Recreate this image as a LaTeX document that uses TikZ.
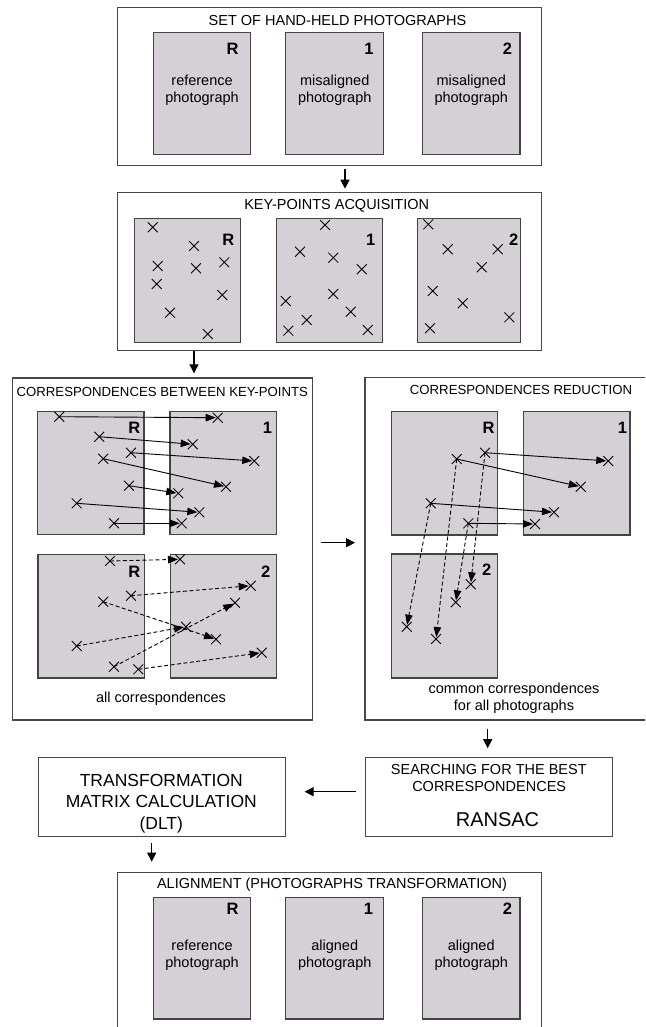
\documentclass[tikz,border=0pt]{standalone}
\usepackage{fontspec}
\setmainfont{Liberation Sans}
\usetikzlibrary{arrows.meta,shapes.misc}
\definecolor{photofill}{RGB}{212,208,213}
\definecolor{photoedge}{RGB}{68,68,68}
\definecolor{boxedge}{RGB}{72,72,72}
\tikzset{
  panel/.style={draw=boxedge, line width=1.3pt, anchor=north west, inner sep=0pt, fill=white},
  photo/.style={draw=photoedge, fill=photofill, line width=1.4pt, anchor=north west, inner sep=0pt},
  kp/.style={cross out, draw=black, line width=0.85pt, minimum size=9pt, inner sep=0pt},
  lbl/.style={font=\fontsize{16.5}{18}\selectfont\bfseries, anchor=east, inner sep=0pt},
  ttl/.style={font=\fontsize{14.5}{17}\selectfont, inner sep=0pt},
  ttls/.style={font=\fontsize{13.2}{16}\selectfont, inner sep=0pt},
  ptxt/.style={font=\fontsize{14.5}{17}\selectfont, align=center, inner sep=0pt},
  corr/.style={-{Triangle[length=10pt,width=7.5pt]}, line width=0.9pt, shorten >=2pt},
  dcorr/.style={corr, dash pattern=on 4pt off 2.5pt},
  flow/.style={-{Triangle[length=9pt,width=9pt]}, line width=1.2pt}
}
\newcommand\mkphoto[4]{\node[photo, minimum width=#3, minimum height=#4] (#1) at (#2) {};}
\newcommand\mkkp[2]{\node[kp] (#1) at (#2) {};}
\begin{document}
\begin{tikzpicture}[x=1pt,y=-1pt]
\useasboundingbox (0,0) rectangle (645,1027);
\clip (0,0) rectangle (645,1027);

% ---------- panels ----------
\node[panel, minimum width=423.7, minimum height=158.3] (b1) at (117,6.7) {};
\node[panel, minimum width=423.7, minimum height=158.3] (b2) at (117,191.7) {};
\node[panel, minimum width=300, minimum height=342] (b3) at (11.7,377.3) {};
\node[panel, minimum width=300, minimum height=342.5] (b4) at (364.3,376.7) {};
\node[panel, minimum width=247.3, minimum height=79.3] (tmc) at (37.7,756.7) {};
\node[panel, minimum width=246.7, minimum height=79.3] (rsc) at (365,756.7) {};
\node[panel, minimum width=423.7, minimum height=200] (b6) at (117,871.7) {};

% ---------- box 1 ----------
\node[ttl] (t1) at (337.5,21) {SET OF HAND-HELD PHOTOGRAPHS};
\mkphoto{p1r}{152.7,31.7}{97.3}{122.3}
\mkphoto{p11}{285,31.7}{98}{122.3}
\mkphoto{p12}{421.7,31.7}{97.6}{122.3}
\node[lbl] (l1r) at (238.8,49.2) {R};
\node[lbl] (l11) at (373.8,49.2) {1};
\node[lbl] (l12) at (512.2,49.2) {2};
\node[ptxt] (x1r) at (p1r.center |- 0,90.5) {reference\\photograph};
\node[ptxt] (x11) at (p11.center |- 0,90.5) {misaligned\\photograph};
\node[ptxt] (x12) at (p12.center |- 0,90.5) {misaligned\\photograph};

% ---------- box 2 ----------
\node[ttl] (t2) at (336.7,205.7) {KEY-POINTS ACQUISITION};
\mkphoto{p2r}{134,218}{106}{124}
\mkphoto{p21}{276,218}{106}{124}
\mkphoto{p22}{417,218}{103}{124}
\node[lbl] (l2r) at (234.5,240.2) {R};
\node[lbl] (l21) at (375.5,240) {1};
\node[lbl] (l22) at (518.5,240) {2};
\mkkp{ka1}{152.7,227.3}\mkkp{ka2}{194,246}\mkkp{ka3}{157.7,266}
\mkkp{ka4}{196,268.3}\mkkp{ka5}{224.3,262.3}\mkkp{ka6}{156.7,284}
\mkkp{ka7}{222.3,295}\mkkp{ka8}{170,312.7}\mkkp{ka9}{207.7,334}
\mkkp{kb1}{325,225}\mkkp{kb2}{300,251.7}\mkkp{kb3}{333.3,257.7}
\mkkp{kb4}{361.7,269.3}\mkkp{kb5}{333.3,294}\mkkp{kb6}{285.7,301}
\mkkp{kb7}{350.7,311.7}\mkkp{kb8}{306.7,320}\mkkp{kb9}{288.3,330.7}
\mkkp{kb10}{367.7,330}
\mkkp{kc1}{428.3,224.3}\mkkp{kc2}{447.7,249.3}\mkkp{kc3}{497.7,249.3}
\mkkp{kc4}{481.7,267.3}\mkkp{kc5}{432.7,291}\mkkp{kc6}{462.7,303.3}
\mkkp{kc7}{509.3,317.3}\mkkp{kc8}{430,328.3}

% ---------- box 3 ----------
\node[ttls] (t3) at (162.3,391.7) {CORRESPONDENCES BETWEEN KEY-POINTS};
\mkphoto{p3r}{36.7,410.7}{106.6}{123.3}
\mkphoto{p31}{169.3,410.7}{106.4}{123.3}
\mkphoto{p3s}{37.3,554}{106.7}{123.3}
\mkphoto{p32}{170,554}{106}{123.3}
\node[lbl] (l3r) at (140.5,428.3) {R};
\node[lbl] (l31) at (272.2,428.3) {1};
\node[lbl] (l3s) at (140.5,571.7) {R};
\node[lbl] (l32) at (270.5,571.7) {2};
\mkkp{ua1}{59.3,416.7}\mkkp{ub1}{217.7,417.7}
\mkkp{ua2}{99.3,436.7}\mkkp{ub2}{192.7,444.3}
\mkkp{ua3}{131,452.7}\mkkp{ub3}{254.3,461}
\mkkp{ua4}{103.3,458.7}\mkkp{ub4}{226,486.7}
\mkkp{ua5}{129,485.7}\mkkp{ub5}{178.3,493.3}
\mkkp{ua6}{76.7,503.3}\mkkp{ub6}{199.3,512.3}
\mkkp{ua7}{114,523.3}\mkkp{ub7}{181.7,523.3}
\mkkp{da1}{110,561}\mkkp{db1}{180,559.3}
\mkkp{da2}{131,595.7}\mkkp{db2}{250.7,585.7}
\mkkp{da3}{103.3,601.7}\mkkp{db3}{216,639.3}
\mkkp{da4}{76.7,646}\mkkp{db4}{186,626.7}
\mkkp{da5}{114,666.7}\mkkp{db5}{235,602.7}
\mkkp{da6}{138.3,669.3}\mkkp{db6}{261.7,652.7}
\foreach \i in {1,...,7}{\draw[corr] (ua\i.center) -- (ub\i.center);}
\foreach \i in {1,...,6}{\draw[dcorr] (da\i.center) -- (db\i.center);}
\node[ptxt] (t3b) at (161,698.3) {all correspondences};

% ---------- box 4 ----------
\node[ttls] (t4) at (521,390) {CORRESPONDENCES REDUCTION};
\mkphoto{p4r}{390.7,410.7}{106}{123.6}
\mkphoto{p41}{522.7,410.7}{106.6}{123.6}
\mkphoto{p42}{390.7,553.3}{106}{124}
\node[lbl] (l4r) at (494.8,428.3) {R};
\node[lbl] (l41) at (627.2,428.3) {1};
\node[lbl] (l42) at (491.5,570) {2};
\mkkp{ra}{485,452.7}\mkkp{rb}{456.7,459}\mkkp{rc}{430.7,503.3}\mkkp{rd}{468.3,523.3}
\mkkp{oa}{608.3,461}\mkkp{ob}{580.7,486.7}\mkkp{oc}{554,512.3}\mkkp{od}{535,524}
\mkkp{sa}{470.7,584.3}\mkkp{sb}{436,639}\mkkp{sc}{406.7,626.7}\mkkp{sd}{455.7,602.3}
\foreach \i in {a,b,c,d}{\draw[corr] (r\i.center) -- (o\i.center);
  \draw[dcorr] (r\i.center) -- (s\i.center);}
\node[ptxt, font=\fontsize{14.5}{16.7}\selectfont] (t4b) at (514,698.3) {common correspondences\\for all photographs};

% ---------- lower boxes ----------
\node[ptxt, font=\fontsize{17.5}{21.5}\selectfont] (tmct) at (161.3,803.3) {TRANSFORMATION\\MATRIX CALCULATION\\(DLT)};
\node[ttl] (rs1) at (488.8,769.3) {SEARCHING FOR THE BEST};
\node[ttl] (rs2) at (489.2,786) {CORRESPONDENCES};
\node[inner sep=0pt, font=\fontsize{20}{22}\selectfont] (rs3) at (497.5,819.3) {RANSAC};

% ---------- box 6 ----------
\node[ttl] (t6) at (332,885) {ALIGNMENT (PHOTOGRAPHS TRANSFORMATION)};
\mkphoto{p6r}{152.7,896.7}{97.3}{121.6}
\mkphoto{p61}{285,896.7}{98}{121.6}
\mkphoto{p62}{421.7,896.7}{97.6}{121.6}
\node[lbl] (l6r) at (238.8,908.5) {R};
\node[lbl] (l61) at (373.3,908.5) {1};
\node[lbl] (l62) at (512.2,908.5) {2};
\node[ptxt] (x6r) at (p6r.center |- 0,955.4) {reference\\photograph};
\node[ptxt] (x61) at (p61.center |- 0,955.4) {aligned\\photograph};
\node[ptxt] (x62) at (p62.center |- 0,955.4) {aligned\\photograph};

% ---------- flow arrows ----------
\coordinate (g1) at (345,0);
\coordinate (g2) at (194,0);
\coordinate (h3) at (0,542.7);
\coordinate (g4) at (487.7,0);
\coordinate (h5) at (0,791.7);
\coordinate (g6) at (151.7,0);
\draw[flow, shorten <=3pt, shorten >=3pt] (b1.south -| g1) -- (b2.north -| g1);
\draw[flow, shorten >=4pt] (b2.south -| g2) -- (b3.north -| g2);
\draw[flow, shorten <=8.3pt, shorten >=9.3pt] (b3.east |- h3) -- (b4.west |- h3);
\draw[flow, shorten <=8pt, shorten >=8.5pt] (b4.south -| g4) -- (rsc.north -| g4);
\draw[flow, shorten <=9pt, shorten >=18.3pt] (rsc.west |- h5) -- (tmc.east |- h5);
\draw[flow, shorten <=5.7pt, shorten >=10pt] (tmc.south -| g6) -- (b6.north -| g6);
\end{tikzpicture}
\end{document}
